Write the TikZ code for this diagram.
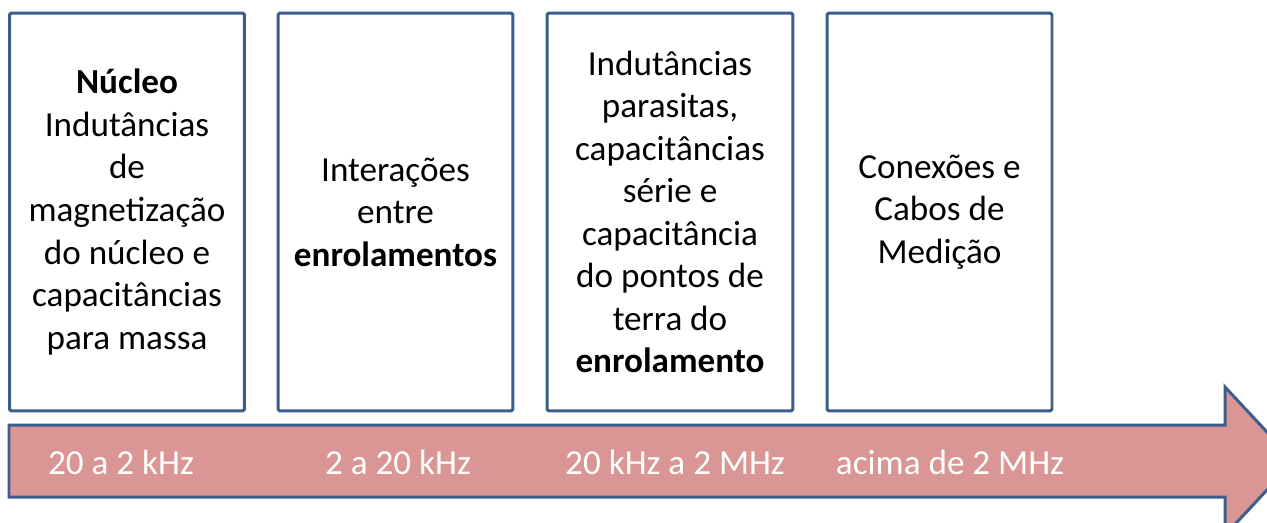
\documentclass[tikz,border=0pt]{standalone}
\usepackage{fontspec}
\setmainfont{Carlito}
\usetikzlibrary{positioning}
\definecolor{edgeblue}{HTML}{3B5E8C}
\definecolor{bandred}{HTML}{D99694}
\begin{document}
\begin{tikzpicture}[x=0.02cm,y=-0.02cm,
  stage/.style={draw=edgeblue,line width=1.7pt,rounded corners=1pt,fill=white,
    minimum height=7.96cm,align=center,inner sep=0pt,
    font=\fontsize{20}{24.2}\selectfont},
  band/.style={draw=edgeblue,line width=1.7pt,fill=bandred},
  freq/.style={text=white,inner sep=0pt,font=\fontsize{20}{24.2}\selectfont}]
  \useasboundingbox (0,0) rectangle (1267,522);
  % frequency stages
  \node[stage,minimum width=4.7cm]  (nucleo) at (127,212) {\textbf{Núcleo}\\Indutâncias\\de\\magnetização\\do núcleo e\\capacitâncias\\para massa};
  \node[stage,minimum width=4.7cm]  (inter) at (395.5,212) {Interações\\entre\\\textbf{enrolamentos}};
  \node[stage,minimum width=4.92cm] (paras) at (670,212) {Indutâncias\\parasitas,\\capacitâncias\\série e\\capacitância\\do pontos de\\terra do\\\textbf{enrolamento}};
  \node[stage,minimum width=4.5cm]  (conex) at (939.5,212) {Conexões e\\Cabos de\\Medição};
  % frequency band arrow
  \draw[band] (9,425) -- (1225,425) -- (1225,387) -- (1294,461)
    -- (1225,535) -- (1225,497) -- (9,497) -- cycle;
  \node[freq] (f1) at (121,462) {20 a 2 kHz};
  \node[freq] (f2) at (398,462) {2 a 20 kHz};
  \node[freq] (f3) at (675,462) {20 kHz a 2 MHz};
  \node[freq] (f4) at (950,462) {acima de 2 MHz};
\end{tikzpicture}
\end{document}
